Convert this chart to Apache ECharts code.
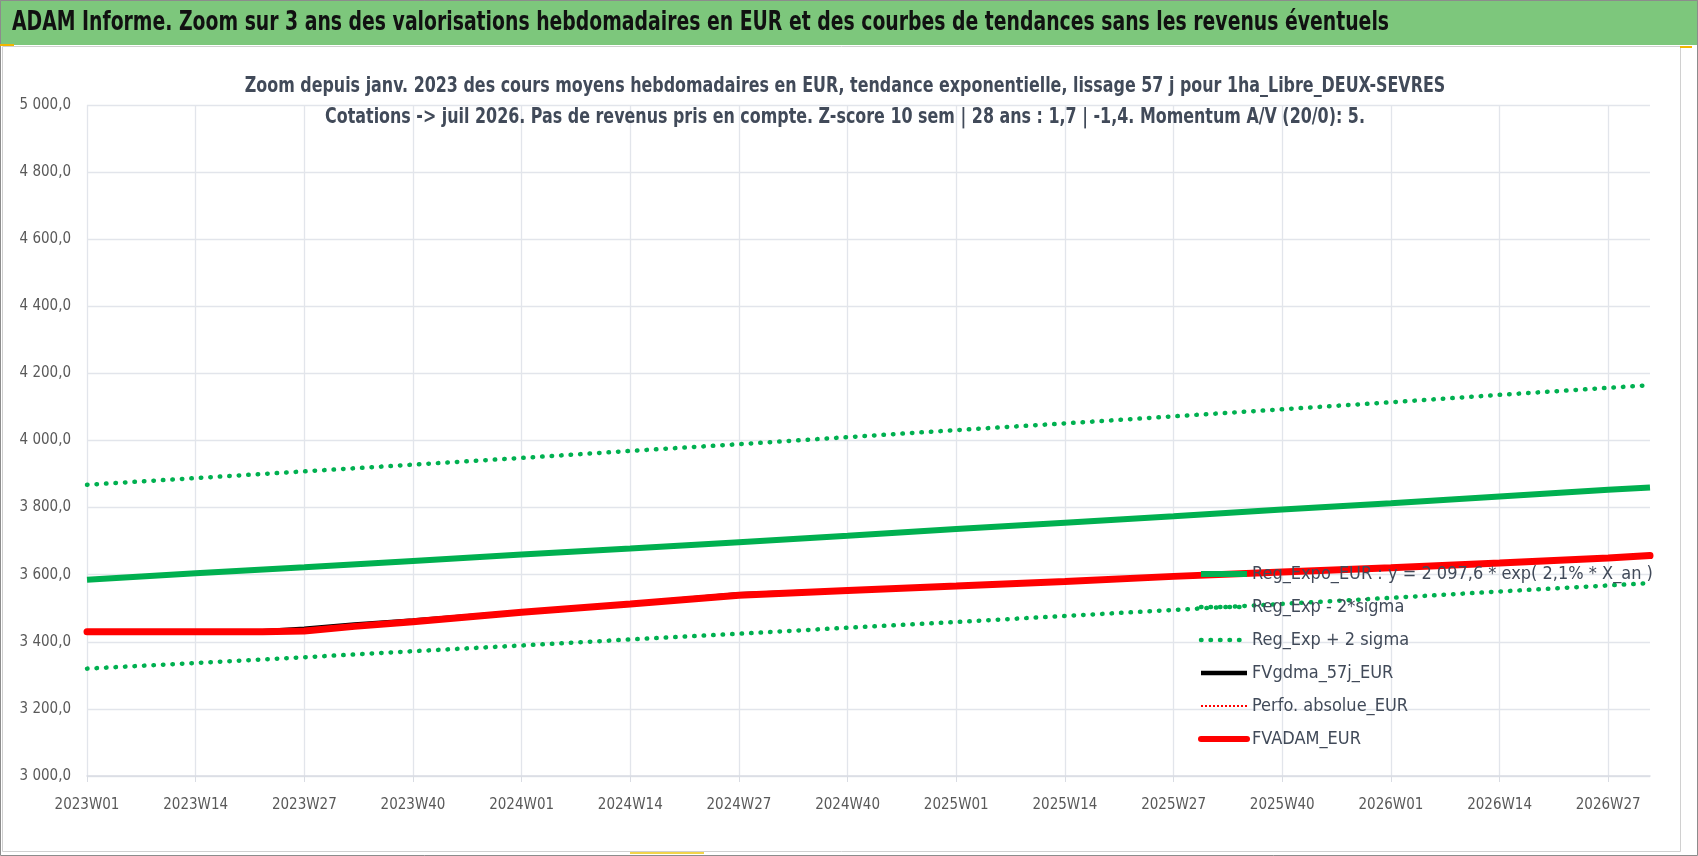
<!DOCTYPE html>
<html>
<head>
    <meta charset="utf-8">
    <title>ADAM Informe</title>
    <style type="text/css">
        html, body {
            width: 100%;
            height: 100%;
            margin: 0;
            padding: 0;
            background: #ffffff;
        }
        #main {
            width: 1698px;
            height: 856px;
        }
    </style>
    <script src="https://cdn.jsdelivr.net/npm/echarts@6/dist/echarts.min.js"></script>
</head>
<body>
<div id="main"></div>
<script type="text/javascript">
    // semaines ISO affichees : 2023W01 -> 2026W32
    var yearWeeks = [[2023, 52], [2024, 52], [2025, 52], [2026, 32]];
    var weeks = [];
    yearWeeks.forEach(function (yw) {
        for (var w = 1; w <= yw[1]; w++) {
            weeks.push(yw[0] + 'W' + (w < 10 ? '0' + w : w));
        }
    });

    // points (courbes de tendance)
    var trendWeeks = ['2023W01', '2023W14', '2023W27', '2023W40', '2024W01', '2024W14', '2024W27', '2024W40',
        '2025W01', '2025W14', '2025W27', '2025W40', '2026W01', '2026W14', '2026W27', '2026W32'];
    var regExpo  = [3585, 3604, 3622, 3641, 3660, 3678, 3697, 3716, 3736, 3755, 3774, 3794, 3813, 3833, 3853, 3860];
    var regMinus = [3320, 3337, 3354, 3372, 3389, 3407, 3424, 3442, 3459, 3477, 3495, 3513, 3531, 3550, 3568, 3575];
    var regPlus  = [3868, 3888, 3908, 3928, 3948, 3969, 3989, 4010, 4031, 4051, 4072, 4093, 4114, 4136, 4157, 4165];

    // valorisations
    var adamWeeks = ['2023W01', '2023W14', '2023W22', '2023W27', '2023W33', '2023W40', '2024W01', '2024W14',
        '2024W27', '2024W40', '2025W01', '2025W14', '2025W27', '2025W40', '2026W01', '2026W14', '2026W27', '2026W32'];
    var fvAdam   = [3430, 3430, 3430, 3432, 3446, 3460, 3488, 3513, 3539, 3553, 3566, 3580, 3595, 3608, 3621, 3635, 3650, 3657];
    var fvGdma   = [3430, 3430, 3431, 3438, 3451, 3463, 3488, 3513, 3541, 3553, 3566, 3580, 3595, 3608, 3621, 3635, 3650, 3657];
    var perfoAbs = [3430, 3430, 3430, 3432, 3446, 3460, 3488, 3513, 3539, 3553, 3566, 3580, 3595, 3608, 3621, 3635, 3650, 3657];

    var names = [
        'Reg_Expo_EUR : y = 2 097,6 * exp( 2,1% * X_an )',
        'Reg_Exp - 2*sigma',
        'Reg_Exp + 2 sigma',
        'FVgdma_57j_EUR',
        'Perfo. absolue_EUR',
        'FVADAM_EUR'
    ];

    var headTitle = 'ADAM Informe. Zoom sur 3 ans des valorisations hebdomadaires en EUR et des courbes de tendances sans les revenus éventuels';
    var subLines = [
        'Zoom depuis janv. 2023 des cours moyens hebdomadaires en EUR, tendance exponentielle, lissage 57 j pour 1ha_Libre_DEUX-SEVRES',
        'Cotations -> juil 2026. Pas de revenus pris en compte. Z-score 10 sem | 28 ans : 1,7 | -1,4. Momentum A/V (20/0): 5.'
    ];

    function pairs(xs, ys) {
        return xs.map(function (x, i) { return [x, ys[i]]; });
    }

    function frNumber(v) {
        var s = v.toFixed(1).split('.');
        return s[0].replace(/\B(?=(\d{3})+(?!\d))/g, ' ') + ',' + s[1];
    }

    var font = '"DejaVu Sans Condensed", sans-serif';
    var green = '#00B050';
    var slate = '#414A59';
    var dots = [0.5, 9];

    var myChart = echarts.init(document.getElementById('main'));

    var option = {
        backgroundColor: '#ffffff',
        animation: false,
        textStyle: { fontFamily: font },
        graphic: [
            { type: 'rect', z: -10, shape: { x: 0, y: 0, width: 1698, height: 45 }, style: { fill: '#7DC77C' } },
            { type: 'rect', z: -9, shape: { x: 0.5, y: 0.5, width: 1697, height: 855 }, style: { fill: null, stroke: '#8C8C8C', lineWidth: 1 } },
            { type: 'rect', z: -9, shape: { x: 2.5, y: 46.5, width: 1678, height: 805 }, style: { fill: null, stroke: '#D0D0D0', lineWidth: 1 } },
            { type: 'line', z: -8, shape: { x1: 0, y1: 45, x2: 14, y2: 45 }, style: { stroke: '#F2B600', lineWidth: 2 } },
            { type: 'line', z: -8, shape: { x1: 1680, y1: 47, x2: 1692, y2: 47 }, style: { stroke: '#F2B600', lineWidth: 2 } },
            { type: 'line', z: -8, shape: { x1: 630, y1: 853, x2: 704, y2: 853 }, style: { stroke: '#F2D54A', lineWidth: 2 } },
            {
                type: 'text', x: 12, y: 23, scaleX: 0.775, z: 10,
                style: {
                    text: headTitle, fontFamily: font, fontSize: 27, fontWeight: 'bold',
                    fill: '#111111', verticalAlign: 'middle'
                }
            },
            {
                type: 'text', x: 845, y: 86.5, scaleX: 0.842, z: 10,
                style: {
                    text: subLines[0], fontFamily: font, fontSize: 21, fontWeight: 'bold',
                    fill: slate, align: 'center', verticalAlign: 'middle'
                }
            },
            {
                type: 'text', x: 845, y: 117.5, scaleX: 0.842, z: 10,
                style: {
                    text: subLines[1], fontFamily: font, fontSize: 21, fontWeight: 'bold',
                    fill: slate, align: 'center', verticalAlign: 'middle'
                }
            }
        ],
        legend: {
            orient: 'vertical',
            left: 1193,
            top: 559,
            z: 10,
            itemWidth: 46,
            itemHeight: 14,
            itemGap: 13,
            data: [
                { name: names[0], lineStyle: { width: 6 } },
                { name: names[1], lineStyle: { width: 4.5, type: dots, cap: 'round' } },
                { name: names[2], lineStyle: { width: 4.5, type: dots, cap: 'round' } },
                { name: names[3], lineStyle: { width: 4.5 } },
                { name: names[4], lineStyle: { width: 2, type: [2, 2] } },
                { name: names[5], lineStyle: { width: 6, cap: 'round' } }
            ],
            itemStyle: { opacity: 0 },
            textStyle: { fontFamily: font, fontSize: 18, color: slate, lineHeight: 20 },
            selectedMode: false
        },
        grid: {
            left: 87,
            right: 48,
            top: 105,
            bottom: 80,
            outerBoundsMode: 'none'
        },
        xAxis: {
            type: 'category',
            boundaryGap: false,
            data: weeks,
            axisLine: { lineStyle: { color: '#D9DCE3', width: 1.5 } },
            axisTick: { show: true, interval: 12, length: 6, lineStyle: { color: '#D9DCE3' } },
            axisLabel: { interval: 12, margin: 22, fontFamily: font, fontSize: 15, color: '#595959' },
            splitLine: { show: true, interval: 12, lineStyle: { color: '#E2E5EB', width: 1.3 } }
        },
        yAxis: {
            type: 'value',
            min: 3000,
            max: 5000,
            interval: 200,
            axisLine: { show: false },
            axisTick: { show: false },
            axisLabel: { margin: 16, fontFamily: font, fontSize: 15, color: '#595959', formatter: frNumber },
            splitLine: { lineStyle: { color: '#E2E5EB', width: 1.3 } }
        },
        series: [
            {
                name: names[0], type: 'line', symbol: 'none', data: pairs(trendWeeks, regExpo),
                lineStyle: { color: green, width: 6 }, itemStyle: { color: green }, z: 2
            },
            {
                name: names[1], type: 'line', symbol: 'none', data: pairs(trendWeeks, regMinus),
                lineStyle: { color: green, width: 4.5, type: dots, cap: 'round' }, itemStyle: { color: green }, z: 2
            },
            {
                name: names[2], type: 'line', symbol: 'none', data: pairs(trendWeeks, regPlus),
                lineStyle: { color: green, width: 4.5, type: dots, cap: 'round' }, itemStyle: { color: green }, z: 2
            },
            {
                name: names[3], type: 'line', symbol: 'none', data: pairs(adamWeeks, fvGdma),
                lineStyle: { color: '#000000', width: 5 }, itemStyle: { color: '#000000' }, z: 3
            },
            {
                name: names[4], type: 'line', symbol: 'none', data: pairs(adamWeeks, perfoAbs),
                lineStyle: { color: '#FF0000', width: 2, type: [2, 2] }, itemStyle: { color: '#FF0000' }, z: 3
            },
            {
                name: names[5], type: 'line', symbol: 'none', data: pairs(adamWeeks, fvAdam),
                lineStyle: { color: '#FF0000', width: 7, cap: 'round' }, itemStyle: { color: '#FF0000' }, z: 4
            }
        ]
    };

    myChart.setOption(option);
</script>
</body>
</html>
